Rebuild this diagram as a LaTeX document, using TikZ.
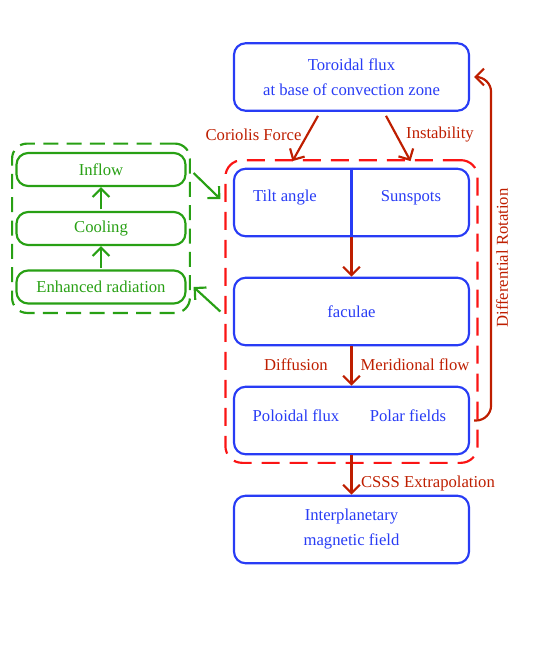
\documentclass[tikz,border=0pt]{standalone}
\usepackage{fontspec}
\setmainfont{Liberation Serif}
\usetikzlibrary{arrows.meta,calc,fit}
\definecolor{fblue}{RGB}{40,60,245}
\definecolor{fgreen}{RGB}{40,160,20}
\definecolor{fred}{RGB}{250,20,20}
\definecolor{fdred}{RGB}{190,30,0}
\begin{document}
\begin{tikzpicture}[x=0.6pt,y=-0.6pt,line width=1.3pt,
    box/.style={draw=fblue,text=fblue,rounded corners=7pt,minimum width=141pt,
        minimum height=40.5pt,inner sep=0pt,align=center,font=\fontsize{10}{15}\selectfont},
    gbox/.style={draw=fgreen,text=fgreen,rounded corners=7pt,minimum width=101.4pt,
        minimum height=19.8pt,inner sep=0pt},
    txt/.style={text=fblue},
    rlab/.style={text=fdred},
    rarr/.style={draw=fdred,-{Straight Barb[length=5pt,width=10pt]}},
    garr/.style={draw=fgreen,-{Straight Barb[length=5pt,width=10pt]}}]
    \useasboundingbox (0,0) rectangle (545,664);

    % main chain
    \node[box] (t) at (351.5,77)    {Toroidal flux\\at base of convection zone};
    \node[box] (s) at (351.5,202.5) {};
    \node[txt] (sa) at (285,198) {Tilt angle};
    \node[txt] (sb) at (411,198) {Sunspots};
    \draw[fblue] (s.north) -- (s.south);
    \node[box] (f) at (351.5,311.5) {faculae};
    \node[box] (p) at (351.5,420.5) {};
    \node[txt] (pa) at (296,416) {Poloidal flux};
    \node[txt] (pb) at (408,416) {Polar fields};
    \node[box] (m) at (351.5,529.5) {Interplanetary\\magnetic field};
    \node[draw=fred,dash pattern=on 10.8pt off 6pt,rounded corners=10pt,
        inner sep=4.5pt,fit=(s)(p)] (d) {};

    % radiation loop
    \node[gbox] (a) at (101,169.5) {Inflow};
    \node[gbox] (b) at (101,228.5) {Cooling};
    \node[gbox] (c) at (101,287)   {Enhanced radiation};
    \node[draw=fgreen,dash pattern=on 9pt off 5pt,rounded corners=9pt,
        inner xsep=2pt,inner ysep=5pt,fit=(a)(c)] (g) {};
    \draw[garr,shorten <=1pt] (c) -- (b);
    \draw[garr,shorten <=1pt] (b) -- (a);
    \draw[garr] ($(a.east)+(7,3.5)$) -- ($(d.west |- s)+(-4,-3.5)$);
    \draw[garr] ($(d.west)+(-4,0)$) -- ($(c.east)+(7,0)$);

    % arrows
    \draw[rarr] ($(t.south)+(-33.5,4)$) -- ($(d.north)+(-59,2)$);
    \draw[rarr] ($(t.south)+(34.5,4)$) -- ($(d.north)+(59,2)$);
    \draw[rarr] (s.south) -- (f.north);
    \draw[rarr] (f.south) -- (p.north);
    \draw[rarr] (p.south) -- (m.north);
    \draw[rarr,rounded corners=9pt] ($(p.east)+(4,0)$) -| ($(t.east)+(21,0)$) -- ($(t.east)+(4,0)$);

    \node[rlab] (cf) at (253.5,135) {Coriolis Force};
    \node[rlab] (in) at (440,135) {Instability};
    \node[rlab] (df) at (296,365) {Diffusion};
    \node[rlab] (mf) at (415,365) {Meridional flow};
    \node[rlab] (cs) at (428,483) {CSSS Extrapolation};
    \node[rlab,rotate=90] (dr) at (502,258) {Differential Rotation};
\end{tikzpicture}
\end{document}
